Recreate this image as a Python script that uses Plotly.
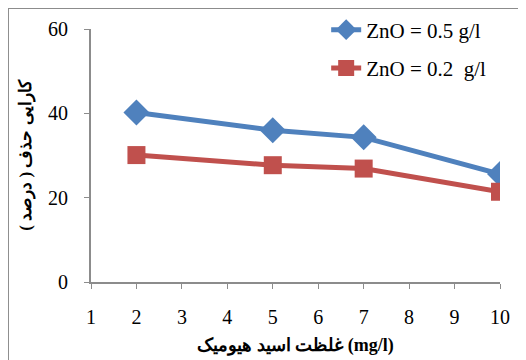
import plotly.graph_objects as go

x_vals = [2, 5, 7, 10]
zno_05 = [40.2, 36.0, 34.3, 25.6]
zno_02 = [30.1, 27.7, 26.9, 21.4]
series_names = ["ZnO = 0.5 g/l", "ZnO = 0.2\u00a0\u00a0g/l"]
x_title = "غلظت اسید هیومیک (mg/l)"
y_title = "کارایی حذف ( درصد )"

serif = "Liberation Serif"

fig = go.Figure()
fig.add_trace(go.Scatter(
    x=x_vals, y=zno_05, name=series_names[0], mode="lines+markers",
    line=dict(color="#4F81BD", width=5),
    marker=dict(symbol="diamond", size=20, color="#4F81BD"),
    legendgroup="a",
))
fig.add_trace(go.Scatter(
    x=x_vals, y=zno_02, name=series_names[1], mode="lines+markers",
    line=dict(color="#C0504D", width=5),
    marker=dict(symbol="square", size=18, color="#C0504D"),
    legendgroup="b",
))

fig.update_layout(
    width=526, height=360,
    margin=dict(l=83, r=34, t=21, b=86, autoexpand=False),
    paper_bgcolor="white", plot_bgcolor="white",
    font=dict(family=serif, size=20, color="black"),
    showlegend=True,
    legend=dict(
        x=0.575, y=1.077, xanchor="left", yanchor="top",
        bgcolor="rgba(0,0,0,0)", tracegroupgap=8,
        font=dict(family=serif, size=21, color="black"),
    ),
    xaxis=dict(
        range=[1, 10], dtick=1, tick0=1,
        showgrid=False, zeroline=False, automargin=False,
        showline=True, linecolor="#8C8C8C", linewidth=2,
        ticks="outside", ticklen=5, tickcolor="#8C8C8C", tickwidth=1,
        ticklabelstandoff=11,
        tickfont=dict(family=serif, size=20, color="black"),
        title=dict(text="<b>" + x_title + "</b>", standoff=11,
                   font=dict(family=serif, size=18, color="black")),
    ),
    yaxis=dict(
        range=[0, 60], dtick=20,
        showgrid=False, zeroline=False, automargin=False,
        showline=True, linecolor="#8C8C8C", linewidth=2,
        ticks="outside", ticklen=5, tickcolor="#8C8C8C", tickwidth=1,
        ticklabelstandoff=12,
        tickfont=dict(family=serif, size=20, color="black"),
        title=dict(text="<b>" + y_title + "</b>", standoff=12,
                   font=dict(family=serif, size=17, color="black")),
    ),
)

border = dict(color="#8C8C8C", width=2)
fig.add_shape(type="line", xref="paper", yref="paper",
              x0=-0.203, x1=-0.203, y0=1.083, y1=-0.4, line=border)
fig.add_shape(type="line", xref="paper", yref="paper",
              x0=-0.203, x1=1.2, y0=1.083, y1=1.083, line=border)

fig.write_html("out.html")
